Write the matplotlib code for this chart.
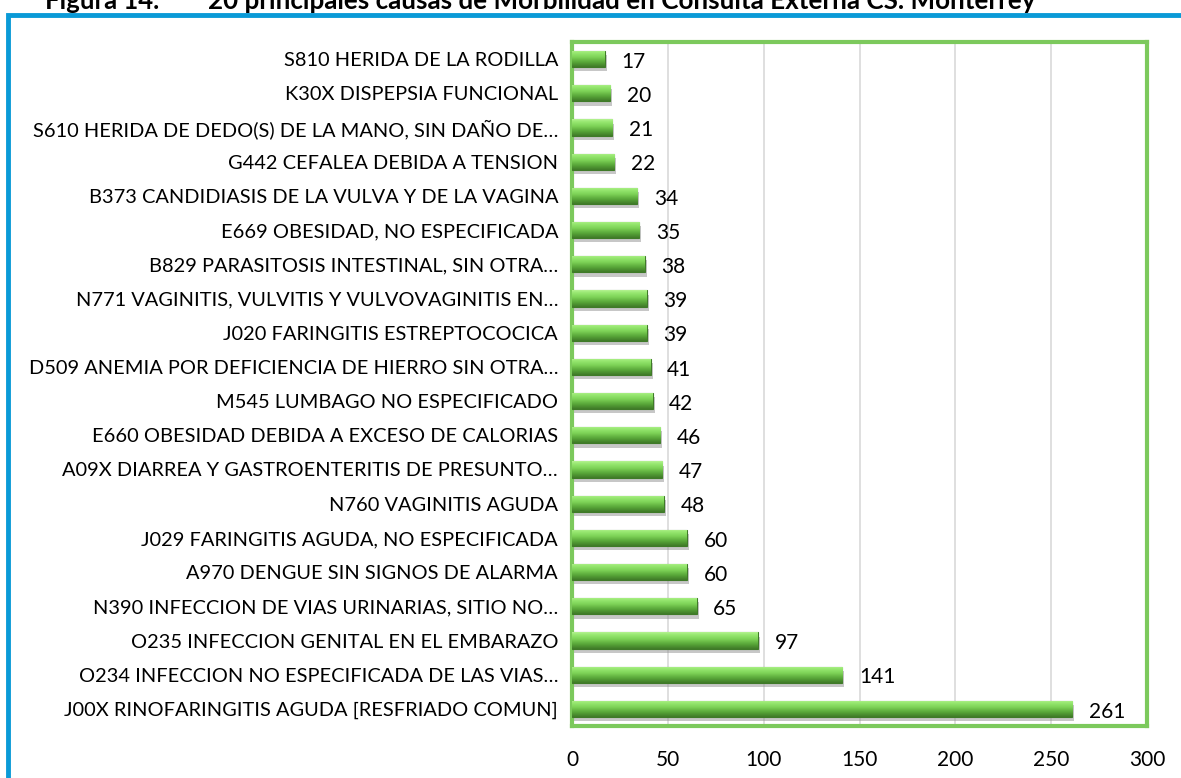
import numpy as np
import matplotlib.pyplot as plt
import matplotlib.patheffects as pe
from matplotlib.patches import Rectangle
from matplotlib.colors import LinearSegmentedColormap

plt.rcParams['font.family'] = ['Lato', 'DejaVu Sans']

# data, top of chart first
causes = [
    "S810 HERIDA DE LA RODILLA",
    "K30X DISPEPSIA FUNCIONAL",
    "S610 HERIDA DE DEDO(S) DE LA MANO, SIN DAÑO DE…",
    "G442 CEFALEA DEBIDA A TENSION",
    "B373 CANDIDIASIS DE LA VULVA Y DE LA VAGINA",
    "E669 OBESIDAD, NO ESPECIFICADA",
    "B829 PARASITOSIS INTESTINAL, SIN OTRA…",
    "N771 VAGINITIS, VULVITIS Y VULVOVAGINITIS EN…",
    "J020 FARINGITIS ESTREPTOCOCICA",
    "D509 ANEMIA POR DEFICIENCIA DE HIERRO SIN OTRA…",
    "M545 LUMBAGO NO ESPECIFICADO",
    "E660 OBESIDAD DEBIDA A EXCESO DE CALORIAS",
    "A09X DIARREA Y GASTROENTERITIS DE PRESUNTO…",
    "N760 VAGINITIS AGUDA",
    "J029 FARINGITIS AGUDA, NO ESPECIFICADA",
    "A970 DENGUE SIN SIGNOS DE ALARMA",
    "N390 INFECCION DE VIAS URINARIAS, SITIO NO…",
    "O235 INFECCION GENITAL EN EL EMBARAZO",
    "O234 INFECCION NO ESPECIFICADA DE LAS VIAS…",
    "J00X RINOFARINGITIS AGUDA [RESFRIADO COMUN]",
]
cases = [17, 20, 21, 22, 34, 35, 38, 39, 39, 41, 42, 46, 47, 48, 60, 60, 65, 97, 141, 261]
xticks = [0, 50, 100, 150, 200, 250, 300]

W, H = 1181, 778
fig = plt.figure(figsize=(W / 100, H / 100), dpi=100)

# blue outer frame
fig.patches.append(Rectangle((8 / W, -0.05), 1.1, (H - 15) / H + 0.05, transform=fig.transFigure,
                             fill=False, edgecolor='#0a9ad7', linewidth=3.5, zorder=0))
fig.text(45 / W, (H - 9) / H, "Figura 14.", fontsize=18.5, fontweight='bold', va='baseline')
fig.text(208 / W, (H - 9) / H, "20 principales causas de Morbilidad en Consulta Externa CS. Monterrey",
         fontsize=18.7, fontweight='bold', va='baseline')

ax = fig.add_axes([572 / W, (H - 726) / H, 575 / W, 684 / H])
ypos = np.arange(len(causes))
bh = 0.47
cmap = LinearSegmentedColormap.from_list('bar', [(0, '#3f7a28'), (0.3, '#5aa83a'),
                                                 (0.6, '#7fd458'), (0.85, '#98e872'), (1, '#b4f290')])
grad = np.linspace(0, 1, 64).reshape(-1, 1)

bars = ax.barh(ypos, cases, height=bh, color='#79d454', edgecolor='#3f7a28', linewidth=0.8, zorder=3)
for b in bars:
    b.set_path_effects([pe.SimplePatchShadow(offset=(1.5, -3), shadow_rgbFace='#909090', alpha=0.5), pe.Normal()])
    x0, y0 = b.get_x(), b.get_y()
    # y axis is inverted, so the last row of grad sits on top
    im = ax.imshow(grad, cmap=cmap, aspect='auto', origin='lower',
                   extent=[x0, x0 + b.get_width(), y0 + b.get_height(), y0], zorder=3.5)
    im.set_clip_path(b)

for y, v in zip(ypos, cases):
    ax.annotate(str(v), (v, y), xytext=(12, -2), textcoords='offset points',
                va='center', ha='left', fontsize=15)

ax.set_yticks(ypos)
ax.set_yticklabels(causes, fontsize=14.4)
ax.set_ylim(len(causes) - 0.5, -0.5)
ax.set_xlim(0, 300)
ax.set_xticks(xticks)
ax.set_xticklabels([str(t) for t in xticks], fontsize=15)
ax.tick_params(axis='x', length=0, pad=17)
ax.tick_params(axis='y', length=0, pad=10)
ax.grid(axis='x', color='#d9d9d9', linewidth=1.2, zorder=0)
ax.set_axisbelow(True)
for s in ax.spines.values():
    s.set_color('#7cc95c')
    s.set_linewidth(3)
ax.axvline(0, color='#c8c040', linewidth=1.5, zorder=2)

fig.savefig('out.png', dpi=100)
